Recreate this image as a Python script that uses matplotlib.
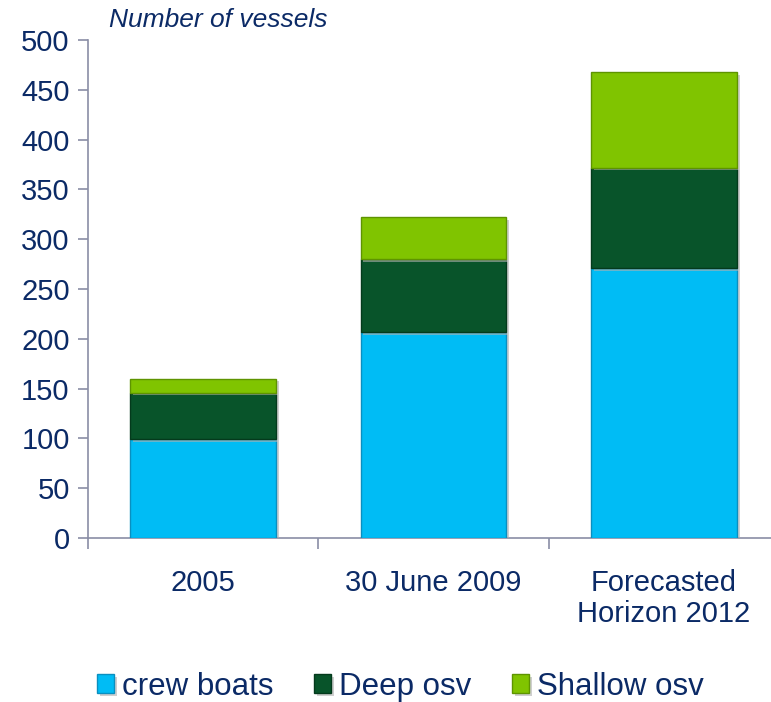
import matplotlib
matplotlib.use("Agg")
import matplotlib.pyplot as plt
import matplotlib.patheffects as pe
import numpy as np

categories = ["2005", "30 June 2009", "Forecasted\nHorizon 2012"]
crew_boats = [99, 207, 271]
deep_osv = [47, 73, 101]
shallow_osv = [14, 42, 96]
series_names = ["crew boats", "Deep osv", "Shallow osv"]
colors = ["#00bcf5", "#08542a", "#80c400"]
edge_colors = ["#0a8fc0", "#043a1c", "#5e9400"]
yticks = [0, 50, 100, 150, 200, 250, 300, 350, 400, 450, 500]

plt.rcParams["font.family"] = ["Liberation Sans", "DejaVu Sans"]
text_color = "#0b2a66"
axis_color = "#8a8ea6"

fig = plt.figure(figsize=(7.71, 7.02), dpi=100)
# the category axis runs on past the right edge of the canvas
ax = fig.add_axes([0.1138, 0.2336, 0.897, 0.7094])

x = np.arange(len(categories))
width = 0.633
bottom = np.zeros(len(categories))
handles = []
shadow = [pe.SimplePatchShadow(offset=(2, -2), shadow_rgbFace="#b0b0b0", alpha=0.6),
          pe.Normal()]
for vals, name, col, ec in zip([crew_boats, deep_osv, shallow_osv], series_names,
                               colors, edge_colors):
    vals = np.array(vals, dtype=float)
    b = ax.bar(x, vals, width, bottom=bottom, color=col, edgecolor=ec,
               linewidth=1.0, label=name, zorder=3)
    for p in b.patches:
        p.set_path_effects(shadow)
    handles.append(b)
    bottom += vals

ax.set_xlim(-0.5, 2.5)
ax.set_ylim(0, 500)
ax.set_yticks(yticks)
ax.set_xticks(x)
ax.set_xticklabels(categories, fontsize=21, color=text_color, linespacing=1.15)
ax.tick_params(axis="y", labelsize=21, labelcolor=text_color, color=axis_color,
               length=7, width=1.2, pad=6)
ax.tick_params(axis="x", length=0, pad=22)
# category separators on the x axis
ax.set_xticks([-0.5, 0.5, 1.5, 2.5], minor=True)
ax.tick_params(axis="x", which="minor", length=8, color=axis_color, width=1.2)

for s in ["top", "right"]:
    ax.spines[s].set_visible(False)
for s in ["left", "bottom"]:
    ax.spines[s].set_color(axis_color)
    ax.spines[s].set_linewidth(1.2)

fig.text(0.142, 0.972, "Number of vessels", fontsize=19, style="italic",
         color=text_color, ha="left", va="center")

leg = fig.legend(handles, series_names, loc="center", bbox_to_anchor=(0.519, 0.022),
                 ncol=3, frameon=False, fontsize=22.5, handlelength=0.55,
                 handleheight=0.55, handletextpad=0.25, columnspacing=1.3)
for t in leg.get_texts():
    t.set_color(text_color)

fig.savefig("out.png", dpi=100)
